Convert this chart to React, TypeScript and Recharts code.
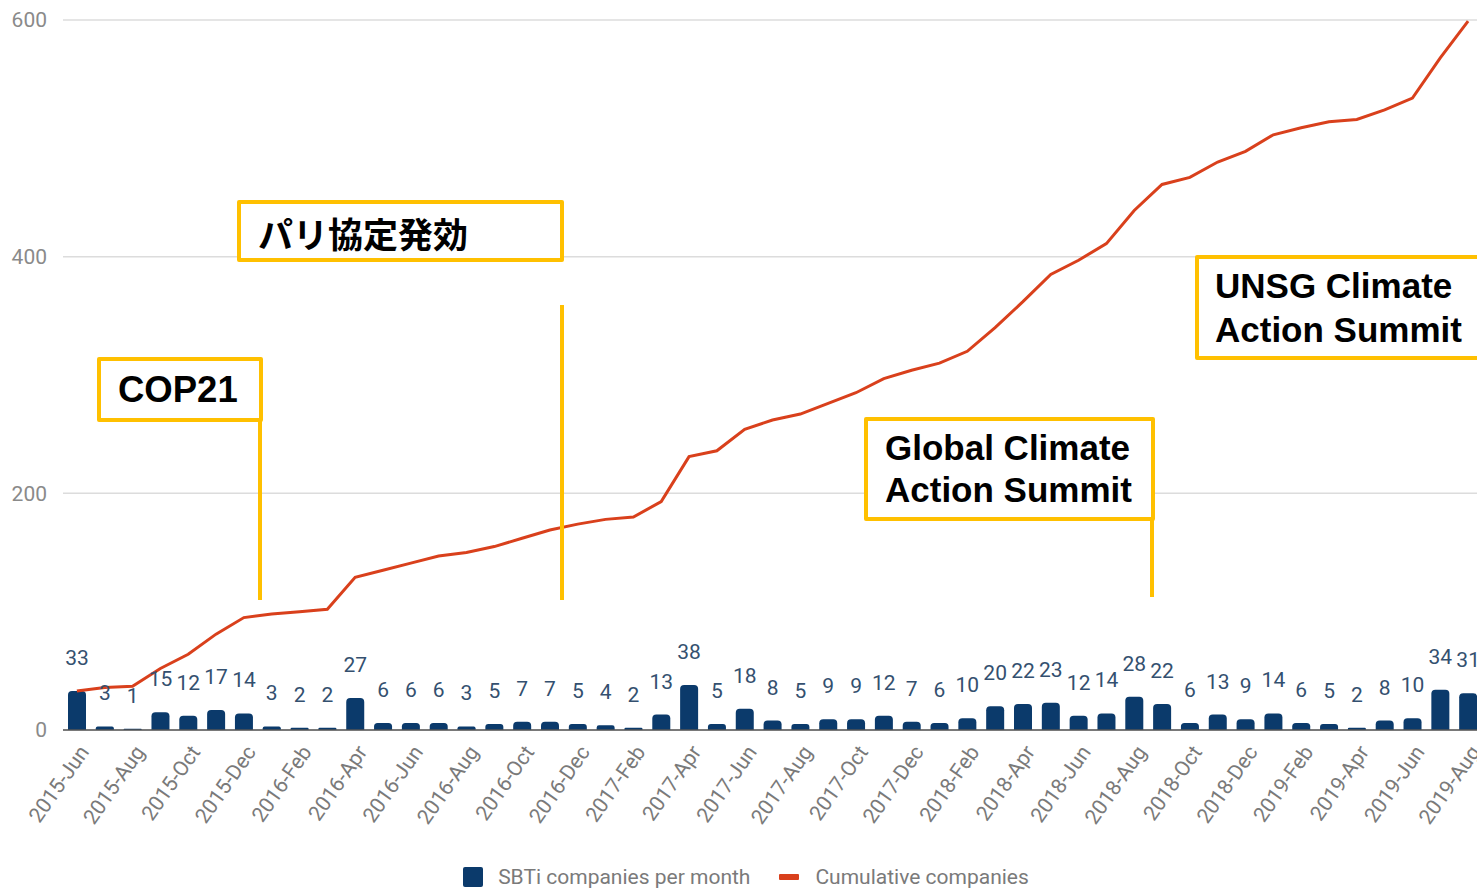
import { Bar, CartesianGrid, ComposedChart, LabelList, Legend, Line, XAxis, YAxis } from 'recharts'

const months = [
  '2015-Jun', '2015-Jul', '2015-Aug', '2015-Sep', '2015-Oct', '2015-Nov', '2015-Dec',
  '2016-Jan', '2016-Feb', '2016-Mar', '2016-Apr', '2016-May', '2016-Jun', '2016-Jul',
  '2016-Aug', '2016-Sep', '2016-Oct', '2016-Nov', '2016-Dec', '2017-Jan', '2017-Feb',
  '2017-Mar', '2017-Apr', '2017-May', '2017-Jun', '2017-Jul', '2017-Aug', '2017-Sep',
  '2017-Oct', '2017-Nov', '2017-Dec', '2018-Jan', '2018-Feb', '2018-Mar', '2018-Apr',
  '2018-May', '2018-Jun', '2018-Jul', '2018-Aug', '2018-Sep', '2018-Oct', '2018-Nov',
  '2018-Dec', '2019-Jan', '2019-Feb', '2019-Mar', '2019-Apr', '2019-May', '2019-Jun',
  '2019-Jul', '2019-Aug',
]

const perMonth = [
  33, 3, 1, 15, 12, 17, 14, 3, 2, 2, 27, 6, 6, 6, 3, 5, 7, 7, 5, 4, 2, 13, 38, 5, 18, 8,
  5, 9, 9, 12, 7, 6, 10, 20, 22, 23, 12, 14, 28, 22, 6, 13, 9, 14, 6, 5, 2, 8, 10, 34, 31,
]

const cumulative = [
  33, 36, 37, 52, 64, 81, 95, 98, 100, 102, 129, 135, 141, 147, 150, 155, 162, 169, 174,
  178, 180, 193, 231, 236, 254, 262, 267, 276, 285, 297, 304, 310, 320, 340, 362, 385, 397,
  411, 439, 461, 467, 480, 489, 503, 509, 514, 516, 524, 534, 568, 599,
]

const yTicks = [0, 200, 400, 600]

const BAR_COLOR = '#0b3a6b'
const LINE_COLOR = '#d9401c'
const YELLOW = '#ffc000'

const data = months.map((m, i) => ({ month: m, perMonth: perMonth[i], cumulative: cumulative[i] }))

function MonthTick({ x, y, payload }: any) {
  return (
    <g transform={`translate(${x + 13},${y + 20}) rotate(-55)`}>
      <text textAnchor="end" fontSize={21} fill="#7a7a7a" fontFamily="Roboto">
        {payload.value}
      </text>
    </g>
  )
}

function LegendContent() {
  return (
    <div
      style={{
        height: 40,
        boxSizing: 'border-box',
        paddingTop: 18,
        paddingLeft: 10,
        display: 'flex',
        justifyContent: 'center',
        alignItems: 'center',
        fontFamily: 'Roboto',
        fontSize: 21,
        color: '#7a7a7a',
      }}
    >
      <span style={{ width: 20, height: 20, background: BAR_COLOR, borderRadius: 2, marginRight: 15 }} />
      <span style={{ marginRight: 29 }}>SBTi companies per month</span>
      <span style={{ width: 20, height: 6, background: LINE_COLOR, borderRadius: 1, marginRight: 16 }} />
      <span>Cumulative companies</span>
    </div>
  )
}

const boxStyle = {
  position: 'absolute' as const,
  boxSizing: 'border-box' as const,
  border: `4px solid ${YELLOW}`,
  borderRadius: 2,
  background: '#fff',
  display: 'flex',
  alignItems: 'center',
  color: '#000',
  fontWeight: 700,
  fontFamily: '"Liberation Sans", Arial, sans-serif',
  whiteSpace: 'nowrap' as const,
}

const vline = (left: number, top: number, height: number) => ({
  position: 'absolute' as const,
  left,
  top,
  width: 4,
  height,
  background: YELLOW,
})

export default function App() {
  return (
    <div style={{ position: 'fixed', left: 0, top: 0, width: 1477, height: 888, overflow: 'hidden', background: '#fff' }}>
      <ComposedChart width={1482} height={888} data={data} margin={{ top: 20, right: 0, left: 0, bottom: 0 }}>
        <CartesianGrid vertical={false} stroke="#dcdcdc" strokeWidth={1.5} />
        <XAxis
          dataKey="month"
          interval={1}
          tickLine={false}
          tickSize={0}
          axisLine={{ stroke: '#555', strokeWidth: 1.5 }}
          height={118}
          tick={<MonthTick />}
        />
        <YAxis
          width={63}
          domain={[0, 600]}
          ticks={yTicks}
          axisLine={false}
          tickLine={false}
          tickSize={0}
          tickMargin={16}
          tick={{ fontSize: 21, fill: '#8a8a8a', fontFamily: 'Roboto' }}
        />
        <Legend verticalAlign="bottom" content={<LegendContent />} />
        <Bar dataKey="perMonth" fill={BAR_COLOR} barSize={18} radius={[4, 4, 0, 0]} isAnimationActive={false}>
          <LabelList dataKey="perMonth" position="top" offset={26} fill="#34506f" fontSize={21} fontFamily="Roboto" />
        </Bar>
        <Line
          type="linear"
          dataKey="cumulative"
          stroke={LINE_COLOR}
          strokeWidth={3}
          dot={false}
          activeDot={false}
          isAnimationActive={false}
        />
      </ComposedChart>

      {/* annotations */}
      <div style={vline(258, 418, 182)} />
      <div style={{ ...boxStyle, left: 97, top: 357, width: 166, height: 65, paddingLeft: 17, fontSize: 36.5 }}>COP21</div>

      <div style={vline(560, 305, 295)} />
      <div
        style={{
          ...boxStyle,
          left: 237,
          top: 200,
          width: 327,
          height: 62,
          paddingLeft: 17,
          paddingTop: 3,
          fontSize: 35,
          fontFamily: '"Noto Sans CJK JP", sans-serif',
        }}
      >
        パリ協定発効
      </div>

      <div style={vline(1150, 517, 80)} />
      <div style={{ ...boxStyle, left: 864, top: 417, width: 291, height: 104, paddingLeft: 17, fontSize: 35, lineHeight: '42px' }}>
        Global Climate
        <br />
        Action Summit
      </div>

      <div style={{ ...boxStyle, left: 1195, top: 255, width: 300, height: 105, paddingLeft: 16, fontSize: 35, lineHeight: '44px' }}>
        UNSG Climate
        <br />
        Action Summit
      </div>
    </div>
  )
}
